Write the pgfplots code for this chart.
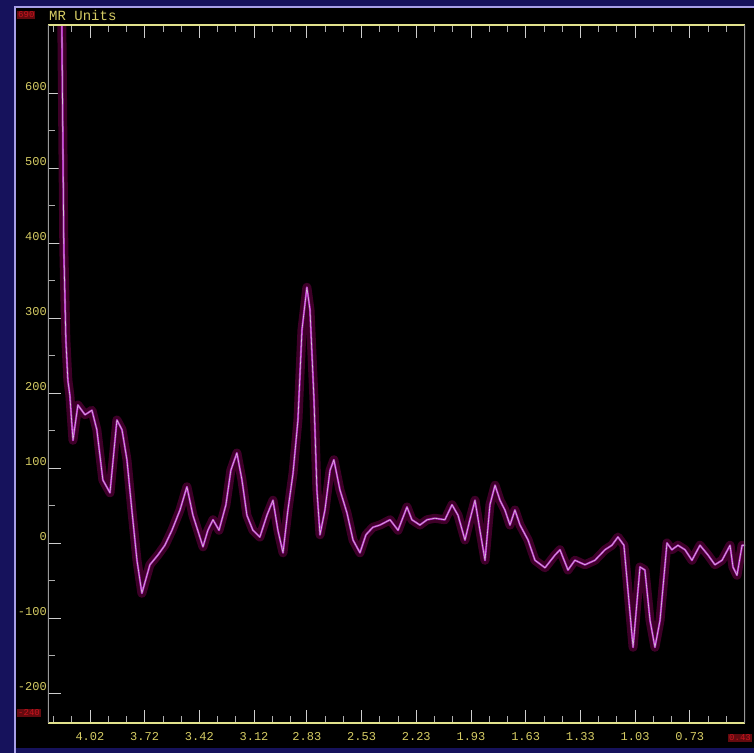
\documentclass[border=0pt]{standalone}
\usepackage{pgfplots}
\pgfplotsset{compat=1.18}
\usepackage{pgfplotstable}
\usepackage{fontspec}
\setmainfont{Liberation Sans}
\newfontfamily\monof{Liberation Mono}
\definecolor{navybg}{RGB}{22,18,92}
\definecolor{lav}{RGB}{168,160,232}
\definecolor{axyel}{RGB}{226,226,140}
\definecolor{lblyel}{RGB}{214,204,100}
\definecolor{tickw}{RGB}{205,205,205}
\definecolor{mag}{RGB}{180,36,196}
\definecolor{wline}{RGB}{215,195,215}
\definecolor{halo}{RGB}{62,0,40}
\definecolor{redlbl}{RGB}{200,20,30}
\pgfplotstableread{
ppm val
4.185 800
4.174 690
4.163 391
4.152 271
4.141 217
4.130 197
4.113 137
4.086 184
4.047 171
4.009 177
3.982 151
3.949 84
3.910 67
3.872 164
3.844 151
3.817 111
3.790 44
3.762 -23
3.735 -67
3.691 -29
3.647 -16
3.609 -3
3.570 17
3.526 44
3.488 75
3.455 37
3.400 -5
3.373 17
3.345 31
3.312 17
3.274 51
3.247 97
3.214 120
3.186 84
3.159 37
3.126 17
3.088 8
3.049 37
3.016 57
2.989 17
2.961 -13
2.934 44
2.906 93
2.879 164
2.857 284
2.830 341
2.813 311
2.791 191
2.775 71
2.758 11
2.731 44
2.703 97
2.682 111
2.649 71
2.610 40
2.577 4
2.539 -13
2.506 11
2.468 21
2.429 24
2.374 31
2.330 17
2.281 48
2.254 31
2.210 24
2.171 31
2.128 33
2.073 31
2.034 51
2.001 37
1.963 4
1.936 31
1.908 57
1.881 17
1.853 -23
1.826 51
1.798 77
1.771 57
1.744 44
1.716 24
1.689 44
1.661 24
1.617 4
1.579 -23
1.524 -33
1.469 -16
1.442 -9
1.398 -36
1.360 -23
1.305 -29
1.250 -23
1.195 -9
1.157 -3
1.124 8
1.091 -3
1.069 -63
1.041 -139
1.003 -32
0.976 -36
0.948 -103
0.921 -139
0.893 -103
0.855 0
0.828 -9
0.795 -3
0.756 -9
0.718 -23
0.674 -3
0.630 -16
0.592 -29
0.553 -23
0.509 -3
0.493 -32
0.471 -43
0.443 -3
0.427 -3
}\spec
\begin{document}
\begin{tikzpicture}
\useasboundingbox (0pt,0pt) rectangle (754pt,753pt);
\fill[navybg] (0pt,0pt) rectangle (754pt,753pt);
\fill[black] (16pt,5pt) rectangle (754pt,745pt);
\draw[lav, line width=2pt] (15pt,0pt) -- (15pt,746pt) -- (754pt,746pt);
\node[anchor=west, text=lblyel, font=\monof\fontsize{14}{14}\selectfont, inner sep=0pt] at (49pt,737pt) {MR Units};
\node[anchor=west, fill=redlbl!50!black, text=redlbl, font=\monof\fontsize{9}{9}\selectfont, inner sep=1pt] at (17pt,738pt) {690};
\node[anchor=west, fill=redlbl!50!black, text=redlbl, font=\monof\fontsize{9}{9}\selectfont, inner sep=1pt] at (17pt,40pt) {-240};
\node[anchor=east, fill=redlbl!50!black, text=redlbl, font=\monof\fontsize{9}{9}\selectfont, inner sep=1pt] at (752pt,15pt) {0.43};
\begin{axis}[
  at={(48pt,30pt)}, anchor=south west,
  scale only axis, width=697pt, height=698pt,
  x dir=reverse,
  xmin=0.427, xmax=4.25, ymin=-240, ymax=690.7,
  axis line style={draw=none},
  axis background/.style={fill=black},
  tick align=inside,
  xtick pos=both, xticklabel pos=lower,
  ytick pos=left,
  xtick={4.02,3.72,3.42,3.12,2.83,2.53,2.23,1.93,1.63,1.33,1.03,0.73},
  xticklabels={4.02,3.72,3.42,3.12,2.83,2.53,2.23,1.93,1.63,1.33,1.03,0.73},
  minor xtick={4.22,4.12,3.92,3.82,3.62,3.52,3.32,3.22,3.02,2.92,2.73,2.63,2.43,2.33,2.13,2.03,1.83,1.73,1.53,1.43,1.23,1.13,0.93,0.83,0.63,0.53},
  ytick={-200,-100,0,100,200,300,400,500,600},
  yticklabels={-200,-100,0,100,200,300,400,500,600},
  minor y tick num=1,
  major tick length=13pt, minor tick length=7pt,
  every tick/.style={tickw, line width=0.8pt},
  every minor tick/.style={tickw!85!black, line width=0.7pt},
  xticklabel style={anchor=north, inner sep=0pt, yshift=-9pt, text=lblyel, font=\monof\fontsize{12}{12}\selectfont},
  yticklabel style={anchor=south east, inner sep=1pt, yshift=1pt, text=lblyel, font=\monof\fontsize{12}{12}\selectfont},
  clip=true,
]
\addplot[halo, line width=9pt, line join=round] table[x=ppm, y=val] {\spec};
\addplot[mag, line width=2pt, line join=round] table[x=ppm, y=val] {\spec};
\addplot[wline, line width=0.6pt, line join=round] table[x=ppm, y=val] {\spec};
\draw[axyel, line width=1.6pt] (rel axis cs:0,1) -- (rel axis cs:1,1);
\draw[axyel, line width=1.6pt] (rel axis cs:0,0) -- (rel axis cs:1,0);
\draw[gray!80, line width=1.2pt] (rel axis cs:0,0) -- (rel axis cs:0,1);
\draw[gray!80, line width=1.2pt] (rel axis cs:1,0) -- (rel axis cs:1,1);
\end{axis}
\end{tikzpicture}
\end{document}
